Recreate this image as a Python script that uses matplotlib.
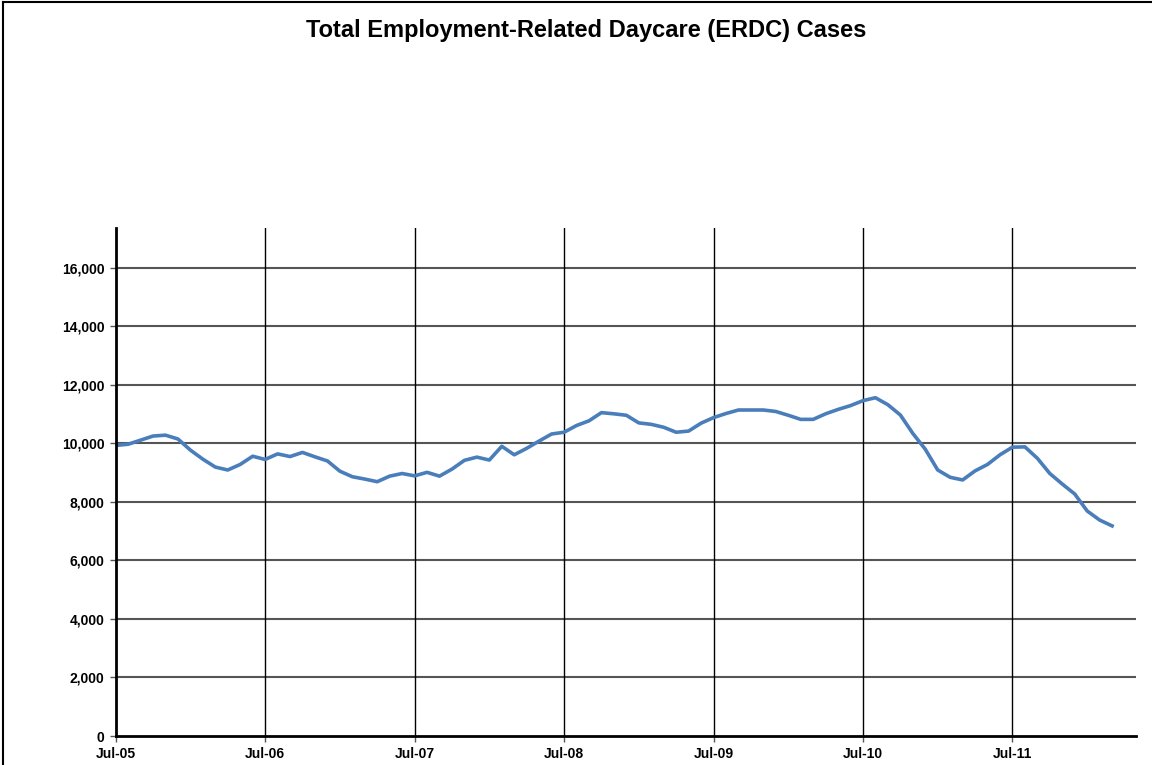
import matplotlib.pyplot as plt
from matplotlib.lines import Line2D
from matplotlib.ticker import FuncFormatter

plt.rcParams['font.family'] = ['Liberation Sans', 'DejaVu Sans']

# Monthly ERDC caseload, Jul-05 through Mar-12
cases = [9930, 9970, 10110, 10250, 10280, 10150, 9770, 9460, 9190, 9090, 9280, 9560,
         9450, 9640, 9550, 9690, 9540, 9400, 9050, 8860, 8780, 8690, 8880, 8970,
         8890, 9010, 8880, 9120, 9420, 9530, 9430, 9900, 9610, 9830, 10080, 10320,
         10380, 10610, 10770, 11050, 11010, 10960, 10700, 10650, 10550, 10380, 10420, 10690,
         10880, 11020, 11140, 11140, 11140, 11090, 10960, 10820, 10820, 11010, 11160, 11290,
         11460, 11560, 11320, 10970, 10340, 9800, 9090, 8840, 8750, 9060, 9280, 9610,
         9870, 9880, 9490, 8970, 8610, 8270, 7690, 7380, 7180]
months = list(range(len(cases)))

tick_pos = [0, 12, 24, 36, 48, 60, 72]
tick_labels = ['Jul-05', 'Jul-06', 'Jul-07', 'Jul-08', 'Jul-09', 'Jul-10', 'Jul-11']
y_ticks = list(range(0, 16001, 2000))

fig = plt.figure(figsize=(11.52, 7.65), dpi=100)
ax = fig.add_axes([0.1004, 0.0379, 0.8855, 0.6637])

ax.plot(months, cases, color='#4a7ebb', linewidth=2.6, zorder=3)

ax.set_xlim(0, 81.9)
ax.set_ylim(0, 17350)
ax.set_xticks(tick_pos)
ax.set_xticklabels(tick_labels)
ax.set_yticks(y_ticks)
ax.yaxis.set_major_formatter(FuncFormatter(lambda v, p: f'{int(v):,}'))

# grid: grey horizontals, black verticals
for y in y_ticks[1:]:
    ax.axhline(y, color='#555555', linewidth=1.5, zorder=1)
for x in tick_pos[1:]:
    ax.axvline(x, color='black', linewidth=1.0, zorder=1)

for s in ['top', 'right']:
    ax.spines[s].set_visible(False)
for s in ['left', 'bottom']:
    ax.spines[s].set_linewidth(2.0)
    ax.spines[s].set_zorder(4)

ax.tick_params(axis='both', direction='out', length=4, width=1, color='#555555',
               labelsize=10, pad=4)
for lbl in ax.get_xticklabels() + ax.get_yticklabels():
    lbl.set_fontweight('bold')

fig.text(0.509, 0.960, 'Total Employment-Related Daycare (ERDC) Cases',
         ha='center', va='center', fontsize=17, fontweight='bold')

# chart frame edges
fig.add_artist(Line2D([3 / 1152, 3 / 1152], [0, 763 / 765], color='black', linewidth=1.5))
fig.add_artist(Line2D([3 / 1152, 1], [763 / 765, 763 / 765], color='black', linewidth=1.5))

fig.savefig('out.png', dpi=100)
